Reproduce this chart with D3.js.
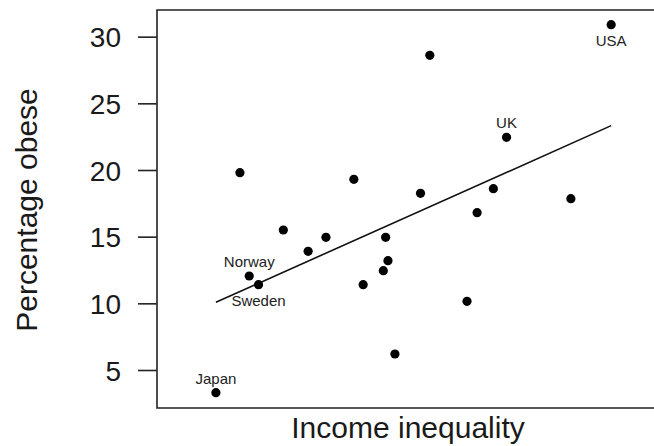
<!DOCTYPE html>
<html>
<head>
<meta charset="utf-8">
<script src="https://cdn.jsdelivr.net/npm/d3@7"></script>
<style>
  html, body { margin: 0; background: #fff; overflow: hidden; }
  svg { display: block; font-family: "Liberation Sans", Arial, sans-serif; }
</style>
</head>
<body>
<div id="chart"></div>
<script>
// income inequality (no ticks shown) and percentage obese
const inequality = [8.5, 6.16, 7.15, 3.71, 5.18, 6.04, 6.98, 7.98, 6.77, 4.27, 4.82,
                    5.59, 4.59, 3.83, 3.95, 5.62, 5.56, 5.30, 6.64, 5.71, 3.4];
const obese = [30.9, 28.6, 22.45, 19.8, 19.3, 18.25, 18.6, 17.85, 16.8, 15.5, 14.95,
               14.95, 13.9, 12.05, 11.4, 13.2, 12.45, 11.4, 10.15, 6.2, 3.3];
const country = ["USA", "", "UK", "", "", "", "", "", "", "", "",
                 "", "", "Norway", "Sweden", "", "", "", "", "", "Japan"];
// "above" or "below" the point
const labelSide = ["below", "", "above", "", "", "", "", "", "", "", "",
                   "", "", "above", "below", "", "", "", "", "", "above"];
const yTicks = [5, 10, 15, 20, 25, 30];

const width = 654, height = 446;
const plot = { left: 157, top: 10, bottom: 408 };

const data = inequality.map((d, i) => ({
  x: d, y: obese[i], name: country[i], side: labelSide[i]
}));

const svg = d3.select("#chart").append("svg")
  .attr("width", width)
  .attr("height", height);

const x = d3.scaleLinear().domain([2.64, 9.13]).range([plot.left, 660]);
const y = d3.scaleLinear().domain([2.15, 32]).range([plot.bottom, plot.top]);

// frame: left, top and bottom sides (right side is cut off in the picture)
const frame = svg.append("path")
  .attr("d", "M" + width + "," + plot.top + "H" + plot.left + "V" + plot.bottom + "H" + width)
  .attr("fill", "none")
  .attr("stroke", "#222")
  .attr("stroke-width", 1.6);

// y axis
const yAxis = d3.axisLeft(y)
  .tickValues(yTicks)
  .tickSize(19)
  .tickPadding(17);

const gy = svg.append("g")
  .attr("transform", "translate(" + plot.left + ",0)")
  .call(yAxis);
gy.select(".domain").remove();
gy.selectAll(".tick line").attr("stroke", "#222").attr("stroke-width", 1.6);
gy.selectAll(".tick text")
  .attr("fill", "#1a1a1a")
  .style("font-size", "28px")
  .attr("dy", "0.36em");

// axis titles
svg.append("text")
  .attr("x", 408)
  .attr("y", 438)
  .attr("text-anchor", "middle")
  .attr("fill", "#1a1a1a")
  .style("font-size", "30px")
  .text("Income inequality");

svg.append("text")
  .attr("transform", "translate(37," + 210 + ") rotate(-90)")
  .attr("text-anchor", "middle")
  .attr("fill", "#1a1a1a")
  .style("font-size", "30px")
  .text("Percentage obese");

// least squares line over the range of the data
const mx = d3.mean(data, d => d.x), my = d3.mean(data, d => d.y);
const slope = d3.sum(data, d => (d.x - mx) * (d.y - my)) /
              d3.sum(data, d => (d.x - mx) * (d.x - mx));
const icpt = my - slope * mx;
const xr = d3.extent(data, d => d.x);

svg.append("path")
  .attr("d", d3.line()(xr.map(v => [x(v), y(icpt + slope * v)])))
  .attr("stroke", "#111")
  .attr("stroke-width", 1.6)
  .attr("fill", "none");

// points
svg.selectAll(".dot")
  .data(data)
  .enter()
  .append("circle")
  .attr("class", "dot")
  .attr("cx", d => x(d.x))
  .attr("cy", d => y(d.y))
  .attr("r", 4.6)
  .attr("fill", "#000");

// country labels
svg.selectAll(".lab")
  .data(data.filter(d => d.name))
  .enter()
  .append("text")
  .attr("class", "lab")
  .attr("x", d => x(d.x))
  .attr("y", d => y(d.y) + (d.side === "above" ? -9 : 21))
  .attr("text-anchor", "middle")
  .attr("fill", "#222")
  .style("font-size", "15px")
  .text(d => d.name);
</script>
</body>
</html>
